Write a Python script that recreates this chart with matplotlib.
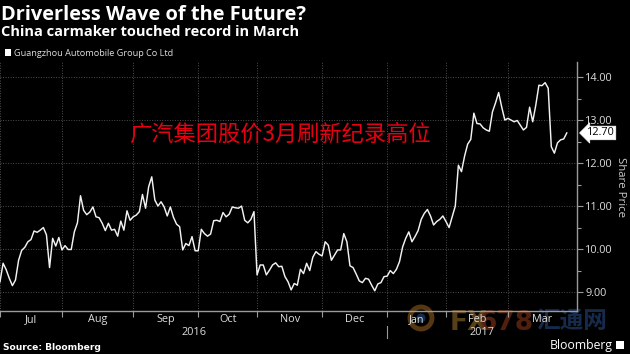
import matplotlib
matplotlib.use("Agg")
import matplotlib.pyplot as plt
import matplotlib.transforms as mtransforms
from matplotlib.patches import Ellipse, Rectangle
from matplotlib.lines import Line2D
import numpy as np

# ---------------- data ----------------
title = "Driverless Wave of the Future?"
subtitle = "China carmaker touched record in March"
series_name = "Guangzhou Automobile Group Co Ltd"
annotation_cn = "广汽集团股价3月刷新纪录高位"
axis_label = "Share Price"
source = "Source: Bloomberg"
months = ["Jul", "Aug", "Sep", "Oct", "Nov", "Dec", "Jan", "Feb", "Mar"]
years = ["2016", "2017"]
y_ticks = [9, 10, 11, 12, 13, 14]

# daily closing prices (HK$), one list per month
jul = [9.24, 9.67, 9.52, 9.32, 9.15, 9.28, 9.74, 9.97, 10.04, 10.17,
       10.22, 10.42, 10.39, 10.44, 10.50, 10.33, 9.57, 10.25, 10.07, 10.27]
aug = [9.98, 10.08, 9.99, 9.99, 10.40, 10.61, 11.24, 10.90, 10.80, 10.86,
       10.98, 10.75, 10.73, 10.60, 10.43, 10.60, 10.44, 10.46, 10.30, 10.65,
       10.44, 10.89, 10.67]
sep = [10.75, 10.79, 10.87, 11.27, 10.95, 11.45, 11.68, 11.14, 11.00, 11.10,
       10.98, 10.77, 10.98, 10.74, 10.58, 10.52, 9.98, 10.13, 10.08, 10.29,
       9.96]
octo = [9.96, 10.46, 10.36, 10.30, 10.35, 10.66, 10.67, 10.64, 10.85, 10.75,
        10.81, 10.98, 10.96, 10.95, 11.00, 10.67, 10.61, 10.69, 10.87]
nov = [9.40, 9.63, 9.63, 9.40, 9.51, 9.63, 9.68, 9.59, 9.60, 9.36,
       9.24, 9.05, 9.20, 9.16, 9.53, 9.43, 9.67, 9.50, 9.81, 9.94,
       9.88]
dec = [9.84, 10.17, 10.09, 9.74, 9.86, 9.98, 9.98, 10.36, 10.17, 9.61,
       9.57, 9.42, 9.26, 9.22, 9.32, 9.30, 9.16, 9.03, 9.19, 9.22,
       9.36]
jan = [9.37, 9.50, 9.43, 9.53, 9.71, 10.05, 10.25, 10.40, 10.17, 10.29,
       10.43, 10.69, 10.83, 10.92, 10.77, 10.56, 10.64, 10.69, 10.77]
feb = [10.64, 10.50, 10.75, 11.00, 11.95, 11.80, 12.16, 12.44, 12.55, 13.16,
       12.92, 12.91, 12.82, 12.77, 12.74, 13.19, 13.40, 13.64, 13.30, 13.00]
mar = [13.04, 13.00, 12.96, 12.99, 12.88, 12.77, 12.83, 13.30, 12.96, 13.35,
       13.81, 13.80, 13.87, 13.74, 12.38, 12.23, 12.47, 12.54, 12.56, 12.70]

month_values = [jul, aug, sep, octo, nov, dec, jan, feb, mar]
prices = np.concatenate(month_values)
x = np.arange(len(prices))
starts = np.cumsum([0] + [len(m) for m in month_values])[:-1]
x_end = len(prices) + 2.3
bounds = list(starts) + [x_end]
centers = [(bounds[i] + bounds[i + 1]) / 2 for i in range(len(months))]
year_split = starts[months.index("Jan")]
year_centers = [(0 + year_split) / 2, (year_split + x_end) / 2]

# ---------------- figure ----------------
W, H = 630, 354
fig = plt.figure(figsize=(W / 100, H / 100), dpi=100, facecolor="black")


def fx(px):
    return px / W


def fy(py):
    return 1 - py / H


ax = fig.add_axes([0, fy(311), 577 / W, (311 - 62) / H])
ax.patch.set_alpha(0)
ax.plot(x, prices, color="#f2f2f2", lw=1.05, zorder=3)
ax.set_xlim(0, x_end)
ax.set_ylim(8.56, 14.35)

ax.yaxis.tick_right()
ax.set_yticks(y_ticks)
ax.set_yticklabels([f"{v:.2f}" for v in y_ticks])
ax.set_yticks([v + 0.5 for v in y_ticks[:-1]], minor=True)
ax.tick_params(axis="y", which="major", length=4, width=0.8, color="#9a9a9a",
               labelcolor="#dddddd", labelsize=7.8, pad=2)
ax.tick_params(axis="y", which="minor", length=3, width=0.8, color="#9a9a9a")
for lab in ax.get_yticklabels():
    lab.set_family("Open Sans")

ax.set_xticks(starts)
ax.set_xticklabels([""] * len(starts))
ax.set_xticks(centers, minor=True)
ax.set_xticklabels(months, minor=True)
ax.tick_params(axis="x", which="major", length=4, width=0.8, color="#9a9a9a")
ax.tick_params(axis="x", which="minor", length=0, pad=2.5,
               labelcolor="#dddddd", labelsize=7.8)
for lab in ax.get_xticklabels(minor=True):
    lab.set_family("Open Sans")

ax.grid(True, which="major", color="#4e4e4e", ls=(0, (1, 1.6)), lw=0.7)
ax.set_axisbelow(True)
for s in ["left", "top"]:
    ax.spines[s].set_visible(False)
for s in ["right", "bottom"]:
    ax.spines[s].set_color("#9a9a9a")
    ax.spines[s].set_linewidth(1.0)

# year labels and separator
trans = mtransforms.blended_transform_factory(ax.transData, ax.transAxes)
for yc, yr in zip(year_centers, years):
    ax.annotate(yr, xy=(yc, 0), xycoords=trans, xytext=(0, -15.5),
                textcoords="offset points", ha="center", va="center",
                fontsize=7.8, color="#dddddd", family="Open Sans")
ax.add_line(Line2D([year_split, year_split], [-0.062, -0.108], transform=trans,
                   color="#9a9a9a", lw=0.8, clip_on=False))

# last value label
ax.annotate(f"{prices[-1]:.2f}", xy=(1, prices[-1]),
            xycoords=("axes fraction", "data"), xytext=(7.0, 0),
            textcoords="offset points", ha="left", va="center",
            fontsize=7.8, color="black", family="Open Sans",
            bbox=dict(boxstyle="larrow,pad=0.12", fc="white", ec="white", lw=0.5),
            annotation_clip=False)

# axis label
fig.text(fx(621), fy(187), axis_label, rotation=270, ha="center", va="center",
         fontsize=8.2, color="#cccccc", family="Open Sans")

# titles
fig.text(fx(1), fy(19.5), title, fontsize=14.4, weight="bold", color="white",
         family="Open Sans", va="baseline")
fig.text(fx(1), fy(35.5), subtitle, fontsize=10.5, weight="bold", color="white",
         family="Open Sans", va="baseline")
fig.add_artist(Rectangle((fx(5), fy(56)), 6 / W, 7 / H, transform=fig.transFigure,
                         fc="white", ec="none"))
fig.text(fx(14), fy(55.5), series_name, fontsize=6.6, color="#dddddd",
         family="Open Sans", va="baseline")

# red annotation
fig.text(fx(280), fy(134), annotation_cn, fontsize=16, color="#e60012",
         family=["Noto Sans CJK SC", "DejaVu Sans"], ha="center", va="center")

# footer
fig.text(fx(3), fy(350), source, fontsize=6.6, weight="bold", color="white",
         family="DejaVu Sans", va="baseline")
fig.text(fx(550), fy(349.5), "Bloomberg", fontsize=8.8, color="white",
         family="Open Sans", va="baseline")
fig.add_artist(Rectangle((fx(616), fy(349)), 8 / W, 8 / H, transform=fig.transFigure,
                         fc="white", ec="none"))

# watermark (semi-transparent, behind the axis text)
wm_alpha = 0.8
fig.add_artist(Ellipse((fx(421), fy(318)), 22 / W, 22 / H, transform=fig.transFigure,
                       fc="none", ec="#6e4616", lw=3.5, zorder=-2, alpha=wm_alpha))
fig.add_artist(Ellipse((fx(421), fy(318)), 9 / W, 9 / H, transform=fig.transFigure,
                       fc="#1c3560", ec="none", zorder=-2, alpha=wm_alpha))
fig.text(fx(450), fy(330), "FX", fontsize=19, weight="bold", color="#6e501e",
         family=["Liberation Sans Narrow", "DejaVu Sans"], va="baseline",
         zorder=-2, alpha=wm_alpha)
fig.text(fx(478), fy(330), "678", fontsize=19, weight="bold", color="#652812",
         family=["Liberation Sans Narrow", "DejaVu Sans"], va="baseline",
         zorder=-2, alpha=wm_alpha)
fig.text(fx(572), fy(321), "汇通网", fontsize=17, weight="bold", color="#1c3560",
         family=["Noto Sans CJK SC", "DejaVu Sans"], ha="center", va="center",
         zorder=-2, alpha=wm_alpha)

fig.savefig("out.png", dpi=100, facecolor="black")
